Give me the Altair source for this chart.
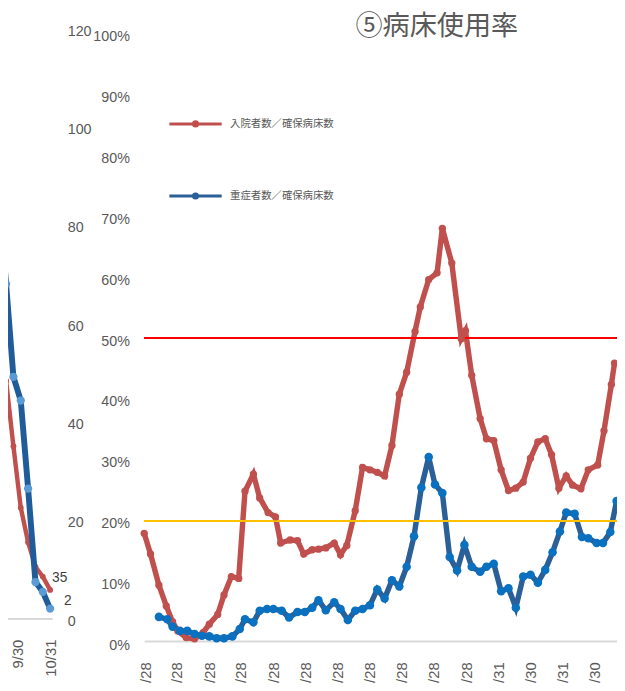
import altair as alt
import pandas as pd

TITLE = "⑤病床使用率"
SERIES = ["入院者数／確保病床数", "重症者数／確保病床数"]
TEXT = "#595959"
FONT = "Liberation Sans"
JP = "Noto Sans CJK JP"

# ---- main chart: bed occupancy (ratio, %) ----
red_dates = ["2020/04/27", "2020/05/03", "2020/05/11", "2020/05/18", "2020/05/24", "2020/05/29",
             "2020/06/06", "2020/06/14", "2020/06/22", "2020/06/28", "2020/07/06", "2020/07/12",
             "2020/07/19", "2020/07/26", "2020/08/01", "2020/08/09", "2020/08/15", "2020/08/23",
             "2020/08/30", "2020/09/04", "2020/09/13", "2020/09/20", "2020/09/26", "2020/10/04",
             "2020/10/10", "2020/10/17", "2020/10/25", "2020/10/31", "2020/11/06", "2020/11/14",
             "2020/11/21", "2020/11/28", "2020/12/05", "2020/12/12", "2020/12/19", "2020/12/26",
             "2021/01/02", "2021/01/10", "2021/01/15", "2021/01/23", "2021/01/31", "2021/02/05",
             "2021/02/14", "2021/02/23", "2021/02/27", "2021/03/05", "2021/03/13", "2021/03/19",
             "2021/03/26", "2021/04/02", "2021/04/09", "2021/04/16", "2021/04/23", "2021/04/30",
             "2021/05/07", "2021/05/14", "2021/05/20", "2021/05/27", "2021/06/03", "2021/06/09",
             "2021/06/17", "2021/06/24", "2021/07/03", "2021/07/09", "2021/07/16", "2021/07/19"]
red_vals = [18.0, 14.6, 9.5, 6.1, 3.5, 2.0, 0.9, 0.7, 1.7, 3.1, 4.7, 7.9, 10.9, 10.6, 24.9, 27.7,
            23.8, 21.4, 20.7, 16.4, 16.9, 16.8, 14.6, 15.3, 15.4, 15.6, 16.4, 14.5, 16.0, 21.7, 28.8,
            28.4, 28.0, 27.4, 32.4, 40.8, 44.4, 51.1, 55.1, 59.6, 60.7, 68.0, 62.3, 49.9, 51.2, 43.9,
            36.8, 33.5, 33.2, 28.4, 25.0, 25.4, 26.4, 30.3, 33.0, 33.5, 30.9, 25.4, 27.4, 25.9, 25.3,
            28.4, 29.2, 34.8, 42.4, 45.9]

blue_dates = ["2020/05/11", "2020/05/19", "2020/05/24", "2020/05/31", "2020/06/07", "2020/06/14",
              "2020/06/21", "2020/06/28", "2020/07/05", "2020/07/12", "2020/07/20", "2020/07/27",
              "2020/08/01", "2020/08/09", "2020/08/15", "2020/08/22", "2020/08/28", "2020/09/05",
              "2020/09/12", "2020/09/20", "2020/09/27", "2020/10/04", "2020/10/10", "2020/10/17",
              "2020/10/25", "2020/10/31", "2020/11/07", "2020/11/14", "2020/11/21", "2020/11/28",
              "2020/12/05", "2020/12/12", "2020/12/19", "2020/12/26", "2021/01/02", "2021/01/09",
              "2021/01/16", "2021/01/23", "2021/01/29", "2021/02/05", "2021/02/12", "2021/02/19",
              "2021/02/26", "2021/03/05", "2021/03/13", "2021/03/19", "2021/03/26", "2021/04/02",
              "2021/04/09", "2021/04/16", "2021/04/23", "2021/04/30", "2021/05/07", "2021/05/14",
              "2021/05/21", "2021/05/28", "2021/06/03", "2021/06/11", "2021/06/18", "2021/06/24",
              "2021/07/02", "2021/07/08", "2021/07/15", "2021/07/21"]
blue_vals = [4.3, 3.9, 2.7, 2.0, 2.0, 1.5, 1.2, 1.1, 0.8, 0.8, 1.1, 2.3, 3.9, 3.4, 5.3, 5.6, 5.6,
             5.3, 4.2, 5.1, 5.1, 5.8, 7.0, 5.4, 6.7, 5.6, 3.8, 5.3, 5.6, 6.2, 8.8, 7.3, 10.3, 9.3,
             12.5, 17.5, 25.5, 30.5, 26.0, 24.6, 14.1, 11.9, 16.1, 12.5, 11.7, 12.5, 13.0, 8.5, 9.0,
             5.8, 10.9, 11.2, 9.9, 12.0, 14.9, 18.3, 21.4, 21.2, 17.4, 17.2, 16.4, 16.4, 18.2, 23.3]

x_ticks = [(2020, 4, 28), (2020, 5, 28), (2020, 6, 28), (2020, 7, 28), (2020, 8, 28),
           (2020, 9, 28), (2020, 10, 28), (2020, 11, 28), (2020, 12, 28), (2021, 1, 28),
           (2021, 2, 28), (2021, 3, 31), (2021, 4, 30), (2021, 5, 31), (2021, 6, 30)]
threshold_red = 0.5
threshold_yellow = 0.2

# ---- fragment of the neighbouring chart (left edge) ----
left_dates = ["2021/09/12", "2021/09/19", "2021/09/26", "2021/10/03", "2021/10/10",
              "2021/10/17", "2021/10/24", "2021/10/31"]
left_blue = [86.0, 68.0, 49.1, 44.3, 26.4, 7.4, 5.4, 2.0]
left_red = [61.0, 48.3, 35.0, 22.5, 15.5, 10.5, 8.5, 5.8]
left_ticks = [(2021, 9, 30), (2021, 10, 31)]
left_labels = ["35", "2"]
left_label_vals = [8.2, 3.6]


def dt(t):
    return alt.DateTime(year=t[0], month=t[1], date=t[2])


main_df = pd.DataFrame({
    "date": red_dates + blue_dates,
    "value": [v / 100 for v in red_vals] + [v / 100 for v in blue_vals],
    "series": [SERIES[0]] * len(red_dates) + [SERIES[1]] * len(blue_dates),
})
red_df = main_df[main_df.series == SERIES[0]]
blue_df = main_df[main_df.series == SERIES[1]]

x_main = alt.X(
    "date:T", title=None,
    scale=alt.Scale(domain=[alt.DateTime(year=2020, month=4, date=27),
                            alt.DateTime(year=2021, month=7, date=21, hours=9)]),
    axis=alt.Axis(values=[dt(t) for t in x_ticks], format="%-m/%-d", labelAngle=-90,
                  labelPadding=21, ticks=False, grid=False, domainColor="#D9D9D9",
                  domainWidth=2, offset=-2, labelFontSize=15, labelColor=TEXT, labelFont=FONT,
                  labelOverlap=False, labelSeparation=0, labelBound=False),
)
y_main = alt.Y(
    "value:Q", title=None, scale=alt.Scale(domain=[0, 1], nice=False),
    axis=alt.Axis(orient="left", values=[i / 10 for i in range(11)], format=".0%", ticks=False,
                  domain=False, grid=False, labelPadding=15, labelOffset=3, labelFontSize=14.5,
                  labelColor=TEXT, labelFont=FONT),
)

lines = alt.Chart(main_df).mark_line(strokeWidth=5.5).encode(
    x=x_main, y=y_main,
    color=alt.Color("series:N",
                    scale=alt.Scale(domain=SERIES, range=["#C0504D", "#2A5F97"]),
                    legend=alt.Legend(
                        title=None, orient="none", legendX=24, legendY=64, direction="vertical",
                        symbolType="M-1,0L1,0M0.08,0A0.08,0.08,0,1,1,-0.08,0A0.08,0.08,0,1,1,0.08,0",
                        symbolSize=2809, symbolStrokeWidth=3, labelFont=JP, labelFontSize=10.5,
                        labelColor=TEXT, labelOffset=7, rowPadding=36, padding=0)),
)
rule_red = alt.Chart(main_df).mark_rule(strokeWidth=2, color="#FF0000").encode(
    y=alt.datum(threshold_red))
rule_yellow = alt.Chart(main_df).mark_rule(strokeWidth=2, color="#FFC000").encode(
    y=alt.datum(threshold_yellow))
red_pts = alt.Chart(red_df).mark_circle(size=55, opacity=1, color="#C0504D").encode(
    x=x_main, y=y_main)
blue_pts = alt.Chart(blue_df).mark_circle(size=75, opacity=1, color="#0A70C0").encode(
    x=x_main, y=y_main)

main = alt.layer(lines, rule_red, rule_yellow, red_pts, blue_pts)

# left fragment
left_df = pd.DataFrame({"date": left_dates, "red": left_red, "blue": left_blue})
lab_df = pd.DataFrame({"date": [left_dates[-1]] * 2, "v": left_label_vals, "t": left_labels})

x_left = alt.X(
    "date:T", title=None,
    scale=alt.Scale(domain=[alt.DateTime(year=2021, month=9, date=10),
                            alt.DateTime(year=2021, month=11, date=2)], range=[-149.5, -93.2]),
    axis=alt.Axis(orient="bottom", values=[dt(t) for t in left_ticks], format="%-m/%-d",
                  labelAngle=-90, labelPadding=21, ticks=False, grid=False,
                  domainColor="#D9D9D9", domainWidth=2, offset=-25, labelFontSize=15,
                  labelColor=TEXT, labelFont=FONT, labelOverlap=False, labelBound=False),
)
y_left = alt.Y(
    "red:Q", title=None, scale=alt.Scale(domain=[0, 120], range=[593, -5], nice=False),
    axis=alt.Axis(orient="left", values=list(range(0, 121, 20)), ticks=False, domain=False,
                  grid=False, labelAlign="left", labelPadding=0, offset=78, labelOffset=3,
                  labelFontSize=14.5, labelColor=TEXT, labelFont=FONT),
)
l_red_line = alt.Chart(left_df).mark_line(strokeWidth=4.5, color="#C0504D").encode(x=x_left, y=y_left)
l_red_pts = alt.Chart(left_df).mark_circle(size=35, opacity=1, color="#C0504D").encode(
    x="date:T", y="red:Q")
l_blue_line = alt.Chart(left_df).mark_line(strokeWidth=6, color="#1F5C99").encode(
    x="date:T", y=alt.Y("blue:Q"))
l_blue_pts = alt.Chart(left_df).mark_circle(size=70, opacity=1, color="#5B9BD5").encode(
    x="date:T", y="blue:Q")
lab1 = alt.Chart(lab_df.iloc[[0]]).mark_text(align="left", dx=2, fontSize=14, color="#404040",
                                             font=FONT).encode(x="date:T", y="v:Q", text="t:N")
lab2 = alt.Chart(lab_df.iloc[[1]]).mark_text(align="left", dx=14, fontSize=14, color="#404040",
                                             font=FONT).encode(x="date:T", y="v:Q", text="t:N")
left = alt.layer(l_red_line, l_red_pts, l_blue_line, l_blue_pts, lab1, lab2)

chart = alt.layer(main, left).resolve_scale(x="independent", y="independent").properties(
    width=479, height=618,
    autosize=alt.AutoSizeParams(type="none"),
    padding={"left": 138, "top": 21, "right": 0, "bottom": 36},
    title=alt.TitleParams(TITLE, anchor="middle", dx=57, offset=-17, fontSize=27.5, font=JP,
                          fontWeight="normal", color=TEXT),
).configure_view(stroke=None).configure_axis(labelOverlap=False)

chart.save("out.html", embed_options={"renderer": "svg", "actions": False})
